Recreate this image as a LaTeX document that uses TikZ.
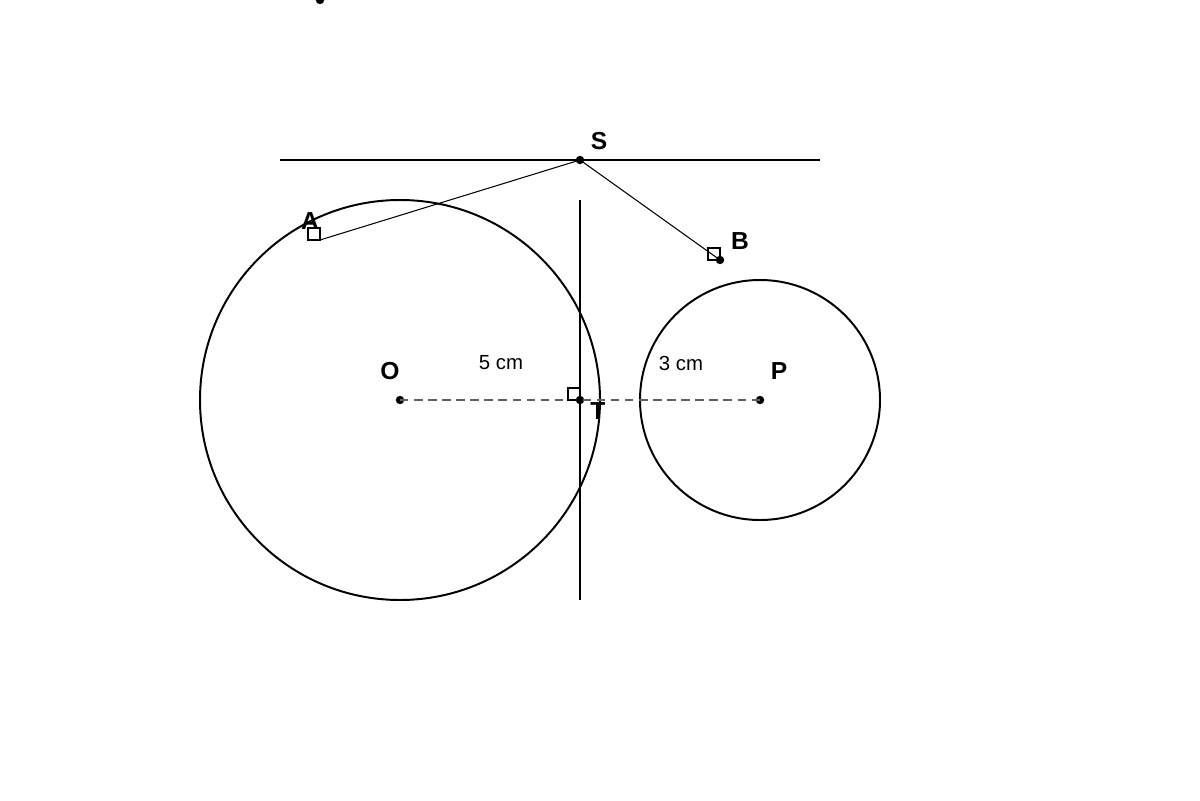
\documentclass[tikz,border=0pt]{standalone}
\usepackage{fontspec}
\setmainfont{Liberation Sans}
\begin{document}
\begin{tikzpicture}[x=0.025cm,y=-0.025cm,
  thick line/.style={line width=1.4pt},
  thin line/.style={line width=0.75pt},
  dotpt/.style={circle,fill=black,inner sep=0pt,minimum size=6pt},
  ptlabel/.style={font=\fontsize{17.5}{19}\selectfont\bfseries,inner sep=0pt},
  dimlabel/.style={font=\fontsize{14.5}{16}\selectfont,inner sep=0pt}]
\useasboundingbox (0,0) rectangle (1200,800);
% circles
\node[draw,thick line,circle,minimum size=400*0.025cm,inner sep=0pt] (cO) at (400,400) {};
\node[draw,thick line,circle,minimum size=240*0.025cm,inner sep=0pt] (cP) at (760,400) {};
% points
\node[dotpt] (top) at (320,0) {};
\node[dotpt] (S) at (580,160) {};
\node[dotpt] (O) at (400,400) {};
\node[dotpt] (T) at (580,400) {};
\node[dotpt] (P) at (760,400) {};
\node[dotpt] (B) at (720,260) {};
\coordinate (A) at (320,240);
\coordinate (L1) at (280,160);
\coordinate (L2) at (820,160);
\coordinate (V1) at (580,200);
\coordinate (V2) at (580,600);
% tangent lines
\draw[thick line] (L1) -- (L2);
\draw[thick line] (V1) -- (V2);
% dashed center line
\draw[line width=1pt,gray!75!black,dash pattern=on 6pt off 4pt] (O.center) -- (P.center);
% segments
\draw[thin line] (S.center) -- (A);
\draw[thin line] (S.center) -- (B.center);
% right angle marks
\draw[thin line] (308,228) rectangle (320,240);
\draw[thin line] (708,248) rectangle (720,260);
\draw[thin line] (568,388) rectangle (580,400);
% labels
\node[ptlabel] (lS) at (599,141) {S};
\node[ptlabel] (lA) at (310,221) {A};
\node[ptlabel] (lB) at (740,241) {B};
\node[ptlabel] (lO) at (390,371) {O};
\node[ptlabel] (lP) at (779,371) {P};
\node[ptlabel] (lT) at (598,411) {T};
\node[dimlabel] (d5) at (501,363) {5 cm};
\node[dimlabel] (d3) at (681,363) {3 cm};
\end{tikzpicture}
\end{document}
